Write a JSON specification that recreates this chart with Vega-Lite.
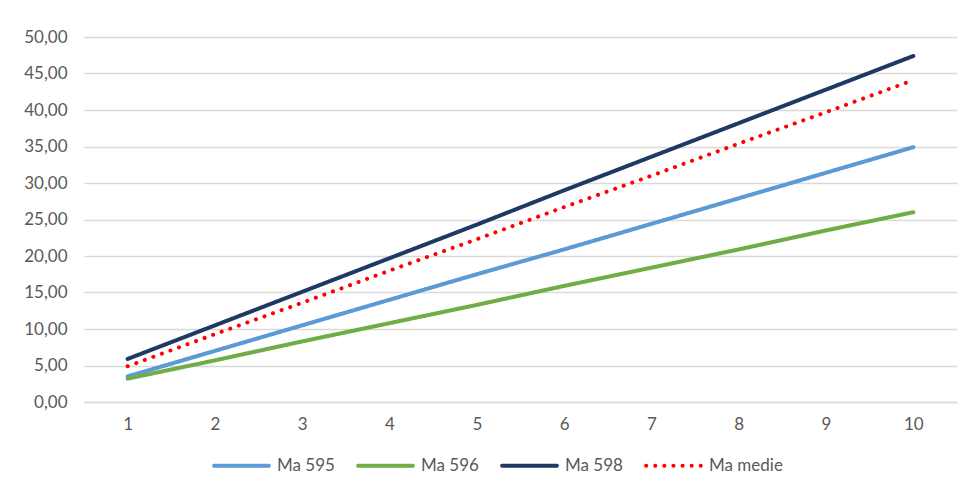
{
  "$schema": "https://vega.github.io/schema/vega-lite/v6.json",
  "width": 873,
  "height": 365,
  "autosize": {"type": "none"},
  "padding": {"left": 84, "top": 37, "right": 14, "bottom": 93},
  "background": "#ffffff",
  "config": {
    "locale": {"number": {"decimal": ",", "thousands": ".", "grouping": [3], "currency": ["", " €"]}},
    "view": {"stroke": null},
    "font": "Lato",
    "axis": {"labelFont": "Lato", "labelColor": "#595959", "labelFontSize": 17, "title": null}
  },
  "data": {
    "values": [
      {"x": "1", "s": "Ma 595", "v": 3.5}, {"x": "2", "s": "Ma 595", "v": 7.0}, {"x": "3", "s": "Ma 595", "v": 10.5}, {"x": "4", "s": "Ma 595", "v": 14.0}, {"x": "5", "s": "Ma 595", "v": 17.5},
      {"x": "6", "s": "Ma 595", "v": 20.9}, {"x": "7", "s": "Ma 595", "v": 24.4}, {"x": "8", "s": "Ma 595", "v": 27.9}, {"x": "9", "s": "Ma 595", "v": 31.4}, {"x": "10", "s": "Ma 595", "v": 34.9},
      {"x": "1", "s": "Ma 596", "v": 3.2}, {"x": "2", "s": "Ma 596", "v": 5.7}, {"x": "3", "s": "Ma 596", "v": 8.3}, {"x": "4", "s": "Ma 596", "v": 10.8}, {"x": "5", "s": "Ma 596", "v": 13.3},
      {"x": "6", "s": "Ma 596", "v": 15.9}, {"x": "7", "s": "Ma 596", "v": 18.4}, {"x": "8", "s": "Ma 596", "v": 20.9}, {"x": "9", "s": "Ma 596", "v": 23.5}, {"x": "10", "s": "Ma 596", "v": 26.0},
      {"x": "1", "s": "Ma 598", "v": 5.9}, {"x": "2", "s": "Ma 598", "v": 10.5}, {"x": "3", "s": "Ma 598", "v": 15.1}, {"x": "4", "s": "Ma 598", "v": 19.7}, {"x": "5", "s": "Ma 598", "v": 24.3},
      {"x": "6", "s": "Ma 598", "v": 29.0}, {"x": "7", "s": "Ma 598", "v": 33.6}, {"x": "8", "s": "Ma 598", "v": 38.2}, {"x": "9", "s": "Ma 598", "v": 42.8}, {"x": "10", "s": "Ma 598", "v": 47.4},
      {"x": "1", "s": "Ma medie", "v": 4.9}, {"x": "2", "s": "Ma medie", "v": 9.3}, {"x": "3", "s": "Ma medie", "v": 13.6}, {"x": "4", "s": "Ma medie", "v": 18.0}, {"x": "5", "s": "Ma medie", "v": 22.3},
      {"x": "6", "s": "Ma medie", "v": 26.7}, {"x": "7", "s": "Ma medie", "v": 31.0}, {"x": "8", "s": "Ma medie", "v": 35.4}, {"x": "9", "s": "Ma medie", "v": 39.7}, {"x": "10", "s": "Ma medie", "v": 44.1}
    ]
  },
  "mark": {"type": "line", "strokeWidth": 4, "strokeCap": "round"},
  "encoding": {
    "x": {
      "field": "x", "type": "ordinal", "sort": null,
      "scale": {"type": "point", "padding": 0.5},
      "axis": {"labelAngle": 0, "ticks": false, "domainColor": "#d9d9d9", "domainWidth": 1.5, "labelPadding": 14, "grid": false}
    },
    "y": {
      "field": "v", "type": "quantitative",
      "scale": {"domain": [0, 50], "nice": false},
      "axis": {"values": [0, 5, 10, 15, 20, 25, 30, 35, 40, 45, 50], "format": ".2f", "domain": false, "ticks": false, "gridColor": "#d9d9d9", "gridWidth": 1.5, "labelPadding": 17}
    },
    "color": {
      "field": "s", "type": "nominal",
      "scale": {"domain": ["Ma 595", "Ma 596", "Ma 598", "Ma medie"], "range": ["#5b9bd5", "#70ad47", "#1f3864", "#ff0000"]},
      "legend": {
        "title": null, "orient": "none", "legendX": 128, "legendY": 399, "direction": "horizontal", "columns": 4,
        "symbolType": "stroke", "symbolSize": 3000, "symbolStrokeWidth": 4, "columnPadding": 15, "symbolOffset": 0,
        "labelFontSize": 17, "labelColor": "#595959", "labelFont": "Lato", "labelOffset": 6,
        "encode": {"symbols": {"update": {"strokeCap": {"value": "round"}}}}
      }
    },
    "strokeDash": {
      "field": "s", "type": "nominal",
      "scale": {"domain": ["Ma 595", "Ma 596", "Ma 598", "Ma medie"], "range": [[1, 0], [1, 0], [1, 0], [0.1, 9]]},
      "legend": null
    }
  }
}
